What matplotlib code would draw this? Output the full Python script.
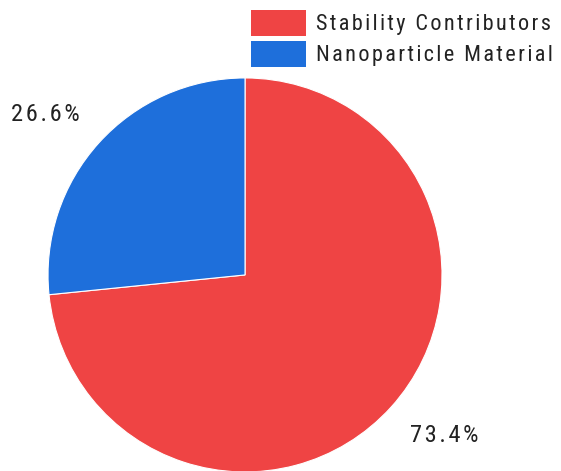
import matplotlib
matplotlib.use("Agg")
import numpy as np
import matplotlib.pyplot as plt
from matplotlib.patches import Patch

# ── Data ─────────────────────────────────────────────────────────────
labels = ["Stability Contributors", "Nanoparticle Material"]
values = [73.4, 26.6]
colors = ["#EF4444", "#1E6FDB"]

HAIR = "\u200a"
FONT = ["Roboto Condensed", "Liberation Sans Narrow", "Liberation Sans", "DejaVu Sans"]


def spaced(s):
    return HAIR.join(s)


fig = plt.figure(figsize=(5.61, 4.71), dpi=100)
ax = fig.add_axes([0.0856, -0.002, 0.7023, 0.8365])

wedges, texts, autotexts = ax.pie(
    values, colors=colors, startangle=90, counterclock=False,
    radius=1.0,
    autopct=lambda p: spaced(f"{p:.1f}%"),
    wedgeprops=dict(edgecolor="white", linewidth=0.8),
    textprops=dict(fontsize=17.6, color="#222222", family=FONT),
)
# labels sit just outside the rim, slightly rotated from the wedge middle
for w, t in zip(wedges, autotexts):
    ang = np.deg2rad((w.theta1 + w.theta2) / 2 + 3.3)
    t.set_position((1.30 * np.cos(ang), 1.30 * np.sin(ang)))

ax.set_xlim(-1, 1)
ax.set_ylim(-1, 1)
ax.set_aspect("equal")
ax.axis("off")

handles = [Patch(facecolor=c, edgecolor="none") for c in colors]
leg = fig.legend(
    handles, [spaced(l) for l in labels],
    loc="upper right", bbox_to_anchor=(1.009, 1.008),
    frameon=False, handlelength=2.48, handleheight=1.42,
    handletextpad=0.45, labelspacing=0.23, borderaxespad=0.2,
    prop=dict(size=16, family=FONT),
)
for t in leg.get_texts():
    t.set_color("#222222")

fig.savefig("out.png", dpi=100)
